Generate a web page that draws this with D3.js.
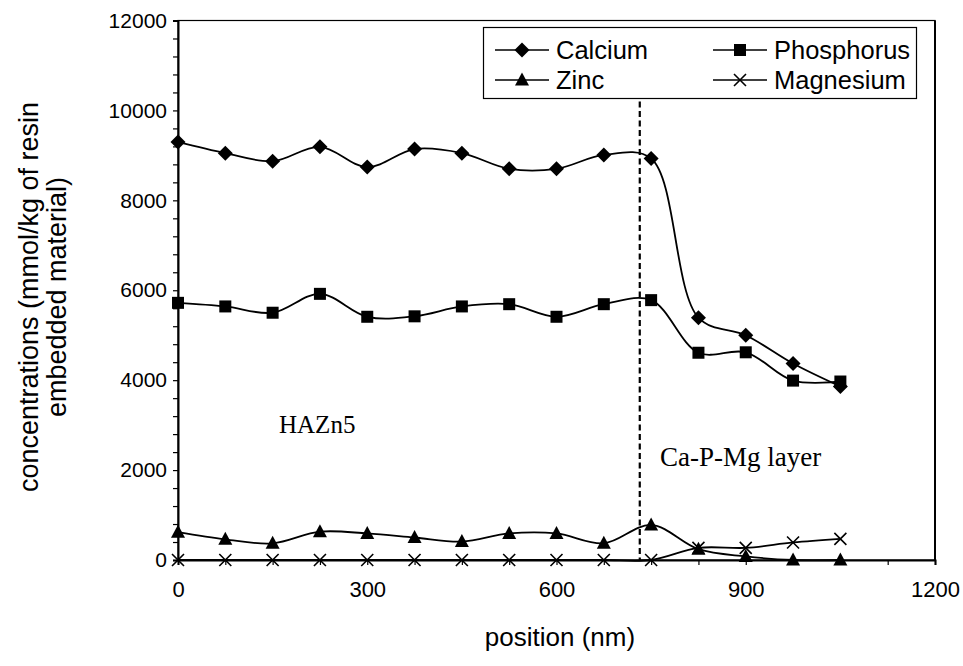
<!DOCTYPE html>
<html>
<head>
<meta charset="utf-8">
<script src="https://cdn.jsdelivr.net/npm/d3@7"></script>
<style>
  body { margin: 0; background: #fff; }
  svg { display: block; }
  text { font-family: "Liberation Sans", Arial, sans-serif; fill: #000; }
  .serif { font-family: "Liberation Serif", "Times New Roman", serif; }
</style>
</head>
<body>
<svg id="chart" width="963" height="666"></svg>
<script>
// positions in nm
const positions = [0, 75, 150, 225, 300, 375, 450, 525, 600, 675, 750, 825, 900, 975, 1050];

// concentrations, mmol/kg of resin embedded material
const calcium    = [9300, 9050, 8870, 9190, 8740, 9140, 9050, 8700, 8700, 9010, 8930, 5390, 5000, 4370, 3860];
const phosphorus = [5720, 5640, 5500, 5920, 5410, 5420, 5640, 5690, 5410, 5690, 5780, 4610, 4620, 3990, 3970];
const zinc       = [620, 460, 370, 630, 590, 500, 410, 590, 590, 370, 780, 240, 80, 0, 0];
const magnesium  = [0, 0, 0, 0, 0, 0, 0, 0, 0, 0, 0, 270, 270, 390, 470];

const seriesNames = ['Calcium', 'Phosphorus', 'Zinc', 'Magnesium'];
const seriesShapes = ['diamond', 'square', 'triangle', 'cross'];
const seriesValues = [calcium, phosphorus, zinc, magnesium];

const xTicks = [0, 300, 600, 900, 1200];
const yTicks = [0, 2000, 4000, 6000, 8000, 10000, 12000];
const boundary = 732;   // dashed line between the two zones

const W = 963, H = 666;
const margin = { top: 20.5, right: 28, bottom: 106, left: 178 };

const svg = d3.select('#chart');

const x = d3.scaleLinear().domain([0, 1200]).range([margin.left, W - margin.right]);
const y = d3.scaleLinear().domain([0, 12000]).range([H - margin.bottom, margin.top]);

// plot frame
svg.append('rect')
  .attr('x', x(0)).attr('y', y(12000))
  .attr('width', x(1200) - x(0)).attr('height', y(0) - y(12000))
  .attr('fill', 'none').attr('stroke', '#000').attr('stroke-width', 1.2);
svg.append('line').attr('x1', x(1200)).attr('x2', x(1200)).attr('y1', y(12000)).attr('y2', y(0))
  .attr('stroke', '#000').attr('stroke-width', 2);

// y axis: small ticks every 400, labels every 2000
const yAxis = d3.axisLeft(y).tickValues(d3.range(0, 12001, 400)).tickSize(5)
  .tickFormat(d => yTicks.includes(d) ? d : '');
const gy = svg.append('g').attr('transform', `translate(${x(0)},0)`).call(yAxis);
gy.select('.domain').attr('stroke-width', 2);
gy.selectAll('.tick line').attr('stroke-width', 1.2);
gy.selectAll('.tick text').attr('x', -11).style('font-size', '21px')
  .style('font-family', '"Liberation Sans", Arial, sans-serif');

// x axis: ticks every 75
const xAxis = d3.axisBottom(x).tickValues(d3.range(0, 1201, 75)).tickSize(5)
  .tickFormat(d => xTicks.includes(d) ? d : '');
const gx = svg.append('g').attr('transform', `translate(0,${y(0)})`).call(xAxis);
gx.select('.domain').attr('stroke-width', 2);
gx.selectAll('.tick line').attr('stroke-width', 1.2);
gx.selectAll('.tick text').attr('y', 21).style('font-size', '22px')
  .style('font-family', '"Liberation Sans", Arial, sans-serif');

// axis titles
svg.append('text')
  .attr('x', 560).attr('y', 646)
  .attr('text-anchor', 'middle').style('font-size', '26px')
  .text('position (nm)');

const yt = svg.append('text')
  .attr('transform', `translate(0,297) rotate(-90)`)
  .attr('text-anchor', 'middle').style('font-size', '27px');
yt.append('tspan').attr('x', 0).attr('y', 38).text('concentrations (mmol/kg of resin');
yt.append('tspan').attr('x', 0).attr('y', 66).text('embedded material)');

// zone boundary
svg.append('line')
  .attr('x1', x(boundary)).attr('x2', x(boundary))
  .attr('y1', y(10200)).attr('y2', y(0))
  .attr('stroke', '#000').attr('stroke-width', 2.2)
  .attr('stroke-dasharray', '6,3.5');

// zone labels
svg.append('text').attr('class', 'serif')
  .attr('x', 279).attr('y', 433).style('font-size', '25px').text('HAZn5');
svg.append('text').attr('class', 'serif')
  .attr('x', 660).attr('y', 466).style('font-size', '27px').text('Ca-P-Mg layer');

function drawMarker(g, shape, cx, cy) {
  if (shape === 'diamond') {
    g.append('path').attr('d', `M${cx},${cy - 7.5}L${cx + 7.5},${cy}L${cx},${cy + 7.5}L${cx - 7.5},${cy}Z`).attr('fill', '#000');
  } else if (shape === 'square') {
    g.append('rect').attr('x', cx - 6).attr('y', cy - 6).attr('width', 12).attr('height', 12).attr('fill', '#000');
  } else if (shape === 'triangle') {
    g.append('path').attr('d', `M${cx},${cy - 7.5}L${cx + 7},${cy + 5.5}L${cx - 7},${cy + 5.5}Z`).attr('fill', '#000');
  } else {
    g.append('path').attr('d', `M${cx - 6},${cy - 6}L${cx + 6},${cy + 6}M${cx - 6},${cy + 6}L${cx + 6},${cy - 6}`)
      .attr('stroke', '#000').attr('stroke-width', 1.6).attr('fill', 'none');
  }
}

const line = d3.line().x(d => x(d[0])).y(d => y(d[1])).curve(d3.curveCatmullRom.alpha(0.5));

seriesValues.forEach((vals, i) => {
  const pts = positions.map((p, j) => [p, vals[j]]);
  svg.append('path').datum(pts)
    .attr('d', line).attr('fill', 'none')
    .attr('stroke', '#000').attr('stroke-width', 1.8);
  const mg = svg.append('g');
  pts.forEach(p => drawMarker(mg, seriesShapes[i], x(p[0]), y(p[1])));
});

// legend
const legend = svg.append('g');
legend.append('rect').attr('x', 483.5).attr('y', 27.5).attr('width', 433).attr('height', 71)
  .attr('fill', '#fff').attr('stroke', '#000').attr('stroke-width', 1.2);
const legendCols = [495, 713];
const legendRows = [50, 80];
seriesNames.forEach((name, i) => {
  const lx = legendCols[i % 2], ly = legendRows[Math.floor(i / 2)];
  legend.append('line').attr('x1', lx).attr('x2', lx + 54).attr('y1', ly).attr('y2', ly)
    .attr('stroke', '#000').attr('stroke-width', 1.6);
  drawMarker(legend, seriesShapes[i], lx + 27, ly);
  legend.append('text').attr('x', lx + 61).attr('y', ly + 9)
    .style('font-size', '25.5px').text(name);
});
</script>
</body>
</html>
